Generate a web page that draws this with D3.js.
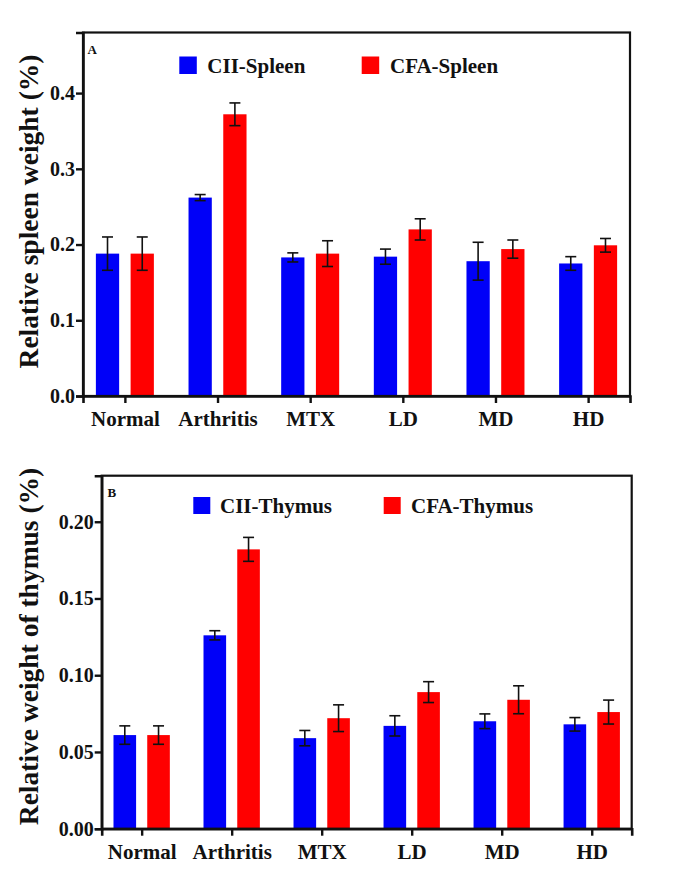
<!DOCTYPE html>
<html>
<head>
<meta charset="utf-8">
<script src="https://cdn.jsdelivr.net/npm/d3@7"></script>
<style>
  html, body { margin: 0; padding: 0; background: #fff; }
  svg { display: block; }
</style>
</head>
<body>
<svg id="chart" width="685" height="879"></svg>
<script>
// ---------- data ----------
const categories = ["Normal", "Arthritis", "MTX", "LD", "MD", "HD"];

const spleenSeries = ["CII-Spleen", "CFA-Spleen"];
const spleenCII = [0.188, 0.262, 0.183, 0.184, 0.178, 0.175];
const spleenCIIErr = [0.022, 0.004, 0.006, 0.010, 0.025, 0.009];
const spleenCFA = [0.188, 0.372, 0.188, 0.220, 0.194, 0.199];
const spleenCFAErr = [0.022, 0.015, 0.017, 0.014, 0.012, 0.009];
const spleenTicks = [0.0, 0.1, 0.2, 0.3, 0.4];

const thymusSeries = ["CII-Thymus", "CFA-Thymus"];
const thymusCII = [0.061, 0.126, 0.059, 0.067, 0.070, 0.068];
const thymusCIIErr = [0.006, 0.003, 0.005, 0.0066, 0.0048, 0.0044];
const thymusCFA = [0.061, 0.182, 0.072, 0.089, 0.084, 0.076];
const thymusCFAErr = [0.006, 0.0078, 0.0087, 0.0068, 0.0091, 0.0078];
const thymusTicks = [0.00, 0.05, 0.10, 0.15, 0.20];

const colors = ["#0000f8", "#ff0000"];
const FONT = "Liberation Serif";

const svg = d3.select("#chart");

function styleText(sel, size) {
  sel.attr("font-family", FONT).attr("font-weight", "bold")
     .attr("font-size", size).attr("fill", "#111");
}

function drawPanel(cfg) {
  const g = svg.append("g");
  const x0 = d3.scalePoint().domain(categories).range([cfg.left, cfg.right]).padding(cfg.pad);
  const step = x0.step();
  const half = step * 0.313;
  const x1 = d3.scaleBand().domain(cfg.series).range([-half, half]).paddingInner(0.33);
  const y = d3.scaleLinear().domain([0, cfg.ymax]).range([cfg.bottom, cfg.top]);

  const rows = categories.map((c, i) => cfg.series.map((s, k) => ({
    cat: c, s: s, k: k, v: cfg.values[k][i], e: cfg.errs[k][i]
  }))).flat();

  // bars
  g.selectAll("rect.bar").data(rows).join("rect")
    .attr("class", "bar")
    .attr("x", d => x0(d.cat) + x1(d.s))
    .attr("width", x1.bandwidth())
    .attr("y", d => y(d.v))
    .attr("height", d => y(0) - y(d.v))
    .attr("fill", d => colors[d.k]);

  // error bars
  const cap = 5.5;
  const cx = d => x0(d.cat) + x1(d.s) + x1.bandwidth() / 2;
  const eb = g.selectAll("g.err").data(rows).join("g").attr("class", "err")
    .attr("stroke", "#111").attr("stroke-width", 1.6);
  eb.append("line")
    .attr("x1", cx).attr("x2", cx)
    .attr("y1", d => y(d.v + d.e)).attr("y2", d => y(d.v - d.e));
  eb.append("line")
    .attr("x1", d => cx(d) - cap).attr("x2", d => cx(d) + cap)
    .attr("y1", d => y(d.v + d.e)).attr("y2", d => y(d.v + d.e));
  eb.append("line")
    .attr("x1", d => cx(d) - cap).attr("x2", d => cx(d) + cap)
    .attr("y1", d => y(d.v - d.e)).attr("y2", d => y(d.v - d.e));

  // frame
  g.append("rect")
    .attr("x", cfg.left).attr("y", cfg.top)
    .attr("width", cfg.right - cfg.left).attr("height", cfg.bottom - cfg.top)
    .attr("fill", "none").attr("stroke", "#111").attr("stroke-width", 2.2);

  // y axis
  const ya = g.append("g").attr("transform", `translate(${cfg.left},0)`)
    .call(d3.axisLeft(y).tickValues(cfg.ticks).tickFormat(d3.format(cfg.fmt)).tickSize(7).tickPadding(1));
  ya.attr("font-family", FONT);
  ya.select(".domain").attr("stroke", "#111").attr("stroke-width", 2.6);
  ya.selectAll(".tick line").attr("stroke", "#111").attr("stroke-width", 2.4);
  styleText(ya.selectAll(".tick text"), 20);

  // x axis
  const xa = g.append("g").attr("transform", `translate(0,${cfg.bottom})`)
    .call(d3.axisBottom(x0).tickSize(7).tickPadding(8));
  xa.attr("font-family", FONT);
  xa.select(".domain").attr("stroke", "#111").attr("stroke-width", 2.6);
  xa.selectAll(".tick line").attr("stroke", "#111").attr("stroke-width", 2.4);
  styleText(xa.selectAll(".tick text"), 21);

  // panel letter
  styleText(g.append("text").attr("x", cfg.letterX).attr("y", cfg.letterY).text(cfg.letter), 13);

  // legend
  cfg.series.forEach((s, k) => {
    g.append("rect").attr("x", cfg.legX[k]).attr("y", cfg.legY)
      .attr("width", cfg.legSize).attr("height", cfg.legSize).attr("fill", colors[k]);
    styleText(g.append("text").attr("x", cfg.legTX[k]).attr("y", cfg.legY + cfg.legSize - 1).text(s), 21);
  });

  // y title
  styleText(g.append("text")
    .attr("transform", `translate(${cfg.titleX},${cfg.titleY}) rotate(-90)`)
    .attr("text-anchor", "middle")
    .text(cfg.title), 27.5);
}

drawPanel({
  left: 83, right: 630, top: 32.5, bottom: 396, pad: 0.452, ymax: 0.48,
  series: spleenSeries, values: [spleenCII, spleenCFA], errs: [spleenCIIErr, spleenCFAErr],
  ticks: spleenTicks, fmt: ".1f",
  letter: "A", letterX: 87.5, letterY: 54,
  legX: [179.3, 361.7], legTX: [207.3, 390], legY: 56.5, legSize: 17.5,
  title: "Relative spleen weight (%)", titleX: 38, titleY: 211.5
});

drawPanel({
  left: 101.7, right: 631.7, top: 475.7, bottom: 828.7, pad: 0.444, ymax: 0.23,
  series: thymusSeries, values: [thymusCII, thymusCFA], errs: [thymusCIIErr, thymusCFAErr],
  ticks: thymusTicks, fmt: ".2f",
  letter: "B", letterX: 107.5, letterY: 497,
  legX: [193.3, 383.7], legTX: [220, 411], legY: 497, legSize: 17,
  title: "Relative weight of thymus (%)", titleX: 38, titleY: 646.5
});
</script>
</body>
</html>
